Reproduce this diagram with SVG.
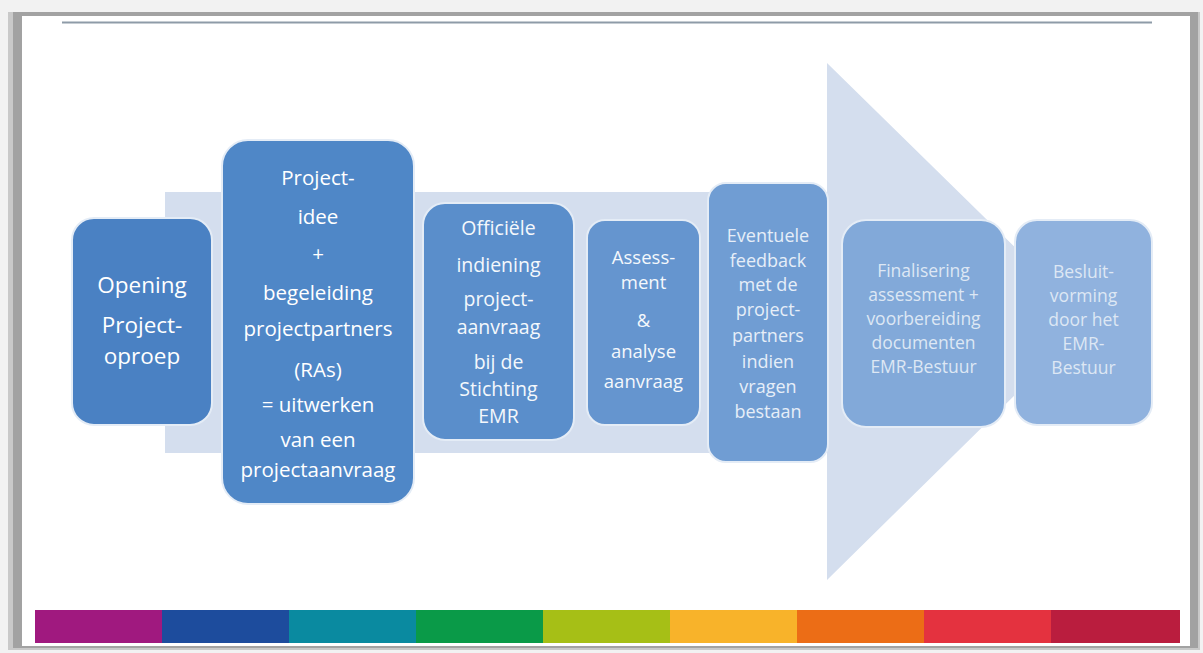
<svg xmlns="http://www.w3.org/2000/svg" width="1203" height="653" viewBox="0 0 1203 653">
<style>
  .box { stroke: #e4ecf6; stroke-width: 2; }
  .t { font-family: "Open Sans", "Liberation Sans", sans-serif; fill: #ffffff; text-anchor: middle; }
  .f1 { fill: #f4f8fc; }
  .f2 { fill: #e6eef8; }
  .f3 { fill: #dde7f4; }
</style>
<rect x="0" y="0" width="1203" height="653" fill="#f2f2f2"/>
<rect x="8" y="12" width="1192" height="638" fill="#c9c9c9"/>
<rect x="13" y="12" width="1185" height="636" fill="#a2a2a2"/>
<rect x="22" y="16" width="1168" height="630" fill="#ffffff"/>
<line x1="62" y1="22.5" x2="1152" y2="22.5" stroke="#8e9ba8" stroke-width="2"/>

<g id="process-arrow">
  <path d="M165,192 L827,192 L827,63 L1090,321 L827,580 L827,453 L165,453 Z" fill="#d4deee"/>
</g>

<g id="color-bar">
  <rect x="35" y="610" width="128" height="33" fill="#a0197f"/>
  <rect x="162" y="610" width="128" height="33" fill="#1d4c9d"/>
  <rect x="289" y="610" width="128" height="33" fill="#0a8aa0"/>
  <rect x="416" y="610" width="128" height="33" fill="#0a9a48"/>
  <rect x="543" y="610" width="128" height="33" fill="#a6bf16"/>
  <rect x="670" y="610" width="128" height="33" fill="#f8b32a"/>
  <rect x="797" y="610" width="128" height="33" fill="#ec6d16"/>
  <rect x="924" y="610" width="128" height="33" fill="#e4323f"/>
  <rect x="1051" y="610" width="129" height="33" fill="#ba1d3e"/>
</g>

<g id="connectors"></g>

<g id="node-opening">
  <rect class="box" x="72" y="218" width="140" height="207" rx="22" fill="#4a81c3"/>
  <text class="t" font-size="22.5"><tspan x="142" y="293">Opening</tspan><tspan x="142" y="333">Project-</tspan><tspan x="142" y="364">oproep</tspan></text>
</g>

<g id="node-projectidee">
  <rect class="box" x="222" y="140" width="192" height="364" rx="26" fill="#4f87c7"/>
  <text class="t" font-size="20.5"><tspan x="318" y="185">Project-</tspan><tspan x="318" y="224">idee</tspan><tspan x="318" y="261">+</tspan><tspan x="318" y="300">begeleiding</tspan><tspan x="318" y="336">projectpartners</tspan><tspan x="318" y="377">(RAs)</tspan><tspan x="318" y="412">= uitwerken</tspan><tspan x="318" y="447">van een</tspan><tspan x="318" y="477">projectaanvraag</tspan></text>
</g>

<g id="node-officiele">
  <rect class="box" x="423" y="203" width="151" height="237" rx="22" fill="#5a8ecb"/>
  <text class="t f1" font-size="19.5"><tspan x="498.5" y="235">Officiële</tspan><tspan x="498.5" y="272">indiening</tspan><tspan x="498.5" y="306">project-</tspan><tspan x="498.5" y="334">aanvraag</tspan><tspan x="498.5" y="369">bij de</tspan><tspan x="498.5" y="396">Stichting</tspan><tspan x="498.5" y="423">EMR</tspan></text>
</g>

<g id="node-assessment">
  <rect class="box" x="587" y="220" width="113" height="205" rx="18" fill="#6595cf"/>
  <text class="t f1" font-size="18.5"><tspan x="643.5" y="264">Assess-</tspan><tspan x="643.5" y="289">ment</tspan><tspan x="643.5" y="327">&amp;</tspan><tspan x="643.5" y="358">analyse</tspan><tspan x="643.5" y="388">aanvraag</tspan></text>
</g>

<g id="node-eventuele">
  <rect class="box" x="708" y="183" width="120" height="279" rx="18" fill="#709dd3"/>
  <text class="t f2" font-size="18"><tspan x="768" y="242">Eventuele</tspan><tspan x="768" y="267">feedback</tspan><tspan x="768" y="291">met de</tspan><tspan x="768" y="316">project-</tspan><tspan x="768" y="342">partners</tspan><tspan x="768" y="368">indien</tspan><tspan x="768" y="393">vragen</tspan><tspan x="768" y="418">bestaan</tspan></text>
</g>

<g id="node-finalisering">
  <rect class="box" x="842" y="220" width="163" height="207" rx="24" fill="#82a9d9"/>
  <text class="t f3" font-size="17.5"><tspan x="923.5" y="277">Finalisering</tspan><tspan x="923.5" y="301">assessment +</tspan><tspan x="923.5" y="325">voorbereiding</tspan><tspan x="923.5" y="349">documenten</tspan><tspan x="923.5" y="373">EMR-Bestuur</tspan></text>
</g>

<g id="node-besluit">
  <rect class="box" x="1015" y="220" width="137" height="205" rx="22" fill="#90b2de"/>
  <text class="t f3" font-size="17.5"><tspan x="1083.5" y="278">Besluit-</tspan><tspan x="1083.5" y="302">vorming</tspan><tspan x="1083.5" y="326">door het</tspan><tspan x="1083.5" y="350">EMR-</tspan><tspan x="1083.5" y="374">Bestuur</tspan></text>
</g>
</svg>
